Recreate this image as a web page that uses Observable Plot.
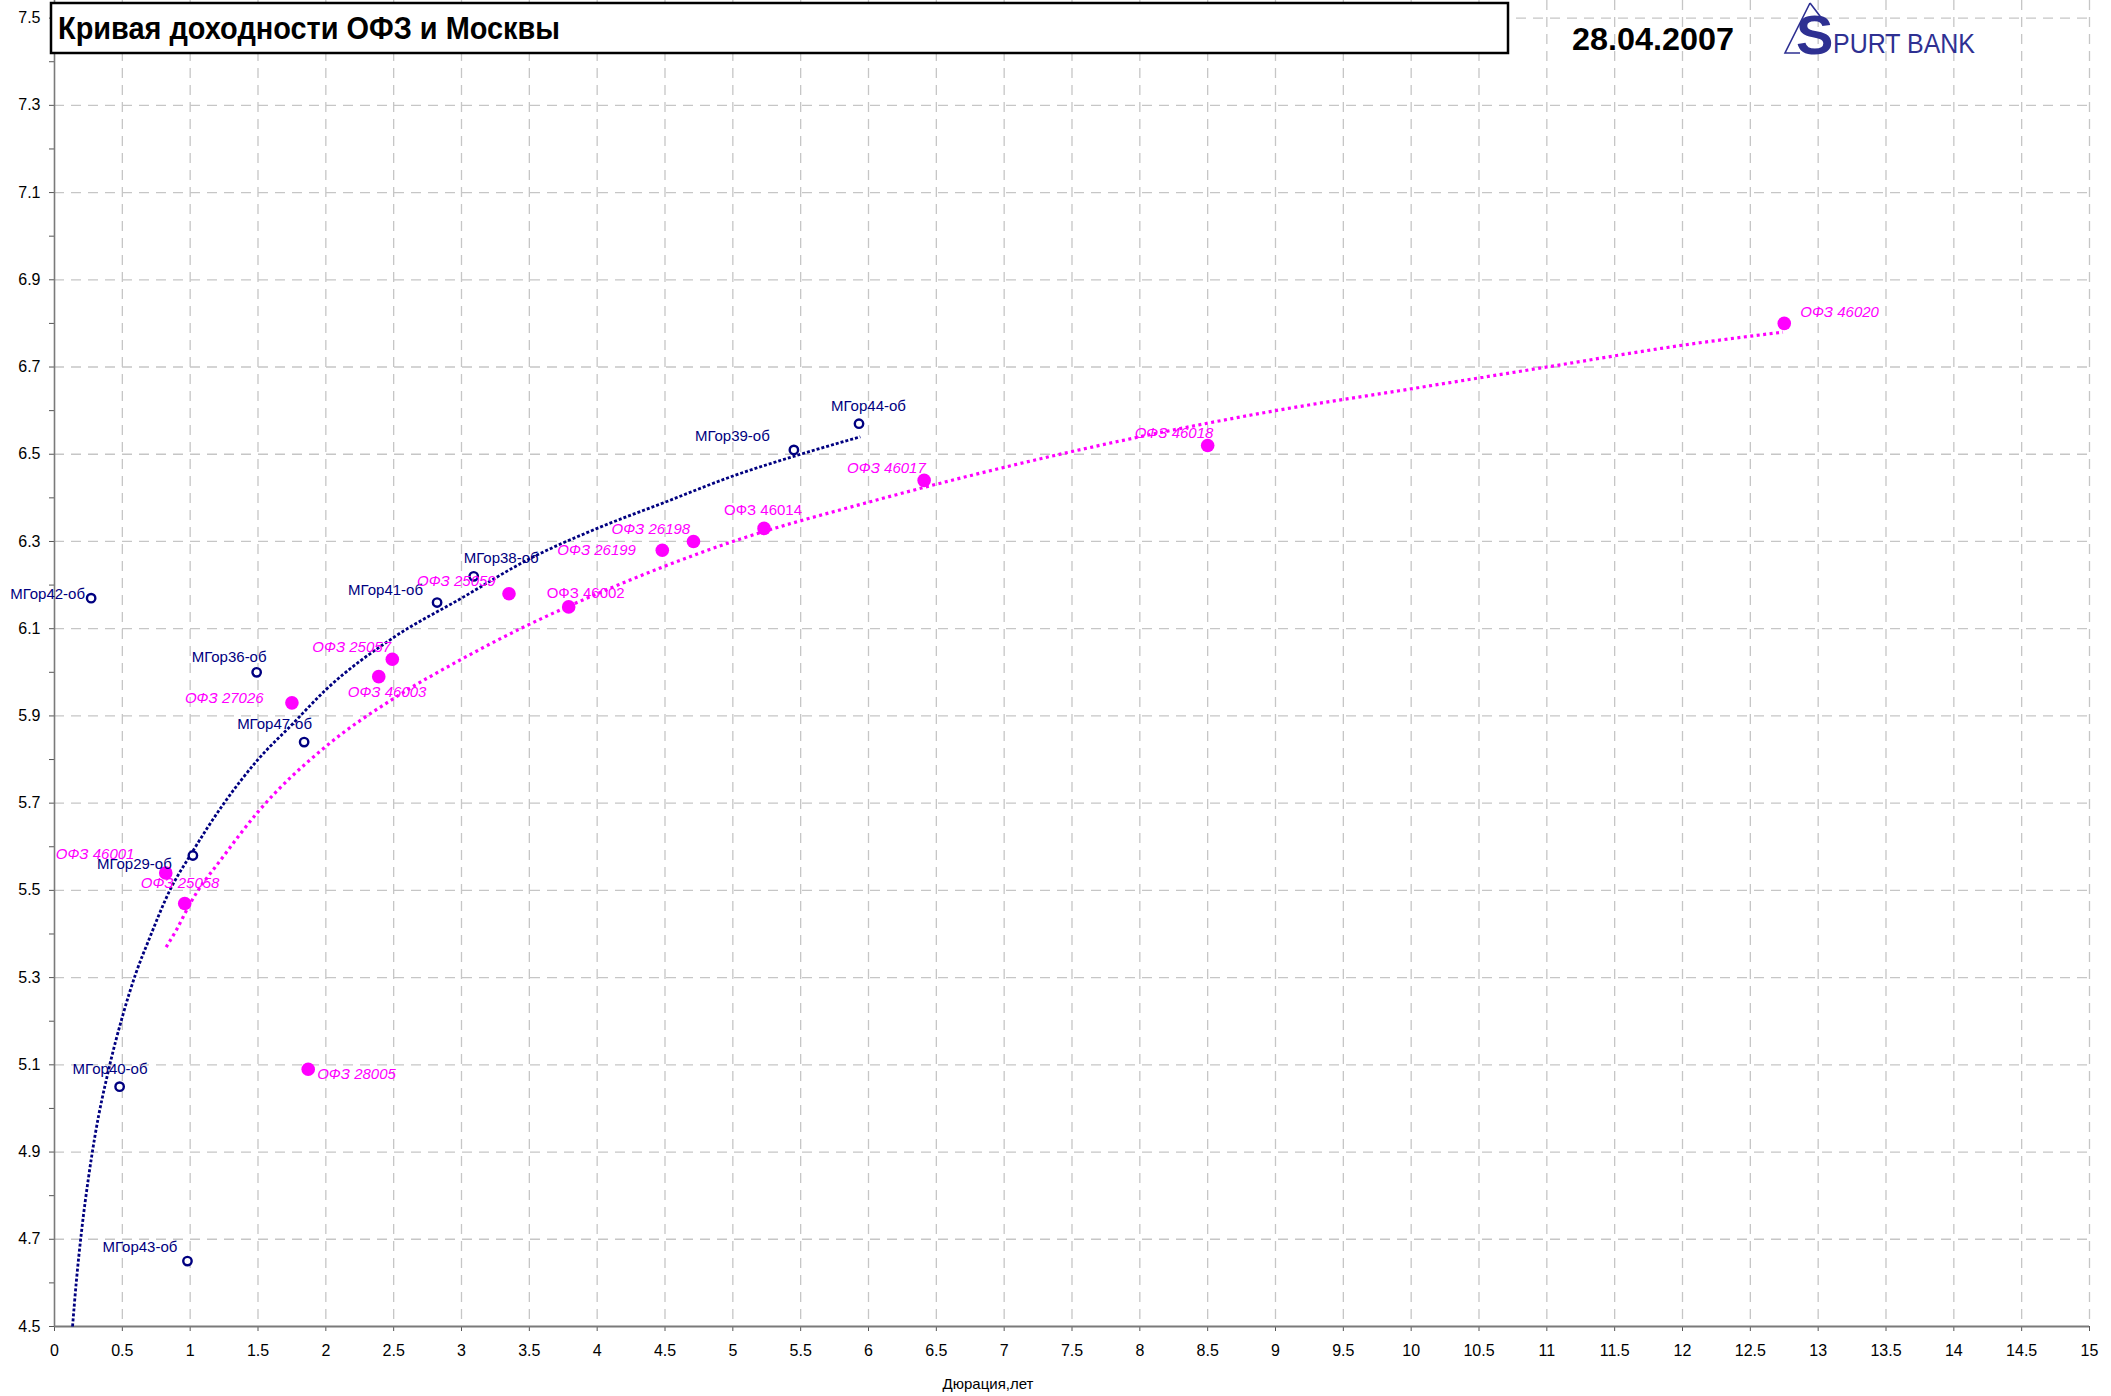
<!DOCTYPE html>
<html>
<head>
<meta charset="utf-8">
<script src="https://cdn.jsdelivr.net/npm/d3@7"></script>
<script src="https://cdn.jsdelivr.net/npm/@observablehq/plot@0.6"></script>
<style>
  html, body { margin: 0; padding: 0; background: #ffffff; }
  #wrap { position: relative; width: 2111px; height: 1396px; font-family: "Liberation Sans", Arial, sans-serif; }
  #wrap > svg { position: absolute; left: 0; top: 0; }
</style>
</head>
<body>
<div id="wrap"></div>
<script>
// ---------- DATA ----------
const chartTitle = "Кривая доходности ОФЗ и Москвы";
const chartDate = "28.04.2007";
const xAxisTitle = "Дюрация,лет";

// Moscow city bonds (МГор)
const mgorNames = ["МГор42-об", "МГор36-об", "МГор47-об", "МГор29-об", "МГор40-об", "МГор43-об", "МГор41-об", "МГор38-об", "МГор39-об", "МГор44-об"];
const mgorDuration = [0.27, 1.49, 1.84, 1.02, 0.48, 0.98, 2.82, 3.09, 5.45, 5.93];
const mgorYield = [6.17, 6.00, 5.84, 5.58, 5.05, 4.65, 6.16, 6.22, 6.51, 6.57];

// Federal loan bonds (ОФЗ)
const ofzNames = ["ОФЗ 27026", "ОФЗ 25057", "ОФЗ 46003", "ОФЗ 25059", "ОФЗ 46002", "ОФЗ 46001", "ОФЗ 25058", "ОФЗ 28005", "ОФЗ 46017", "ОФЗ 46014", "ОФЗ 26198", "ОФЗ 26199", "ОФЗ 46018", "ОФЗ 46020"];
const ofzDuration = [1.75, 2.49, 2.39, 3.35, 3.79, 0.82, 0.96, 1.87, 6.41, 5.23, 4.71, 4.48, 8.50, 12.75];
const ofzYield = [5.93, 6.03, 5.99, 6.18, 6.15, 5.54, 5.47, 5.09, 6.44, 6.33, 6.30, 6.28, 6.52, 6.80];

// Trend curves (duration, yield)
const mgorTrendX = [0.133, 0.16, 0.2, 0.25, 0.3, 0.4, 0.5, 0.6, 0.7, 0.85, 1.0, 1.25, 1.5, 1.75, 2.0, 2.5, 3.0, 3.5, 4.0, 4.5, 5.0, 5.5, 5.94];
const mgorTrendY = [4.50, 4.60, 4.72, 4.84, 4.94, 5.09, 5.21, 5.31, 5.39, 5.50, 5.58, 5.70, 5.80, 5.88, 5.96, 6.08, 6.17, 6.26, 6.33, 6.39, 6.45, 6.50, 6.54];
const ofzTrendX = [0.823, 0.9, 1.0, 1.25, 1.5, 2.0, 2.5, 3.0, 3.5, 4.0, 5.0, 6.0, 7.0, 8.0, 9.0, 10.0, 11.0, 12.0, 12.74];
const ofzTrendY = [5.37, 5.41, 5.47, 5.58, 5.68, 5.83, 5.94, 6.03, 6.11, 6.18, 6.30, 6.39, 6.47, 6.54, 6.60, 6.65, 6.70, 6.75, 6.78];

// Axis ticks
const xTicks = [0, 0.5, 1, 1.5, 2, 2.5, 3, 3.5, 4, 4.5, 5, 5.5, 6, 6.5, 7, 7.5, 8, 8.5, 9, 9.5, 10, 10.5, 11, 11.5, 12, 12.5, 13, 13.5, 14, 14.5, 15];
const xTickLabels = ["0", "0.5", "1", "1.5", "2", "2.5", "3", "3.5", "4", "4.5", "5", "5.5", "6", "6.5", "7", "7.5", "8", "8.5", "9", "9.5", "10", "10.5", "11", "11.5", "12", "12.5", "13", "13.5", "14", "14.5", "15"];
const yTicks = [4.5, 4.7, 4.9, 5.1, 5.3, 5.5, 5.7, 5.9, 6.1, 6.3, 6.5, 6.7, 6.9, 7.1, 7.3, 7.5];
const yTickLabels = ["4.5", "4.7", "4.9", "5.1", "5.3", "5.5", "5.7", "5.9", "6.1", "6.3", "6.5", "6.7", "6.9", "7.1", "7.3", "7.5"];
const yMinorTicks = [4.6, 4.8, 5.0, 5.2, 5.4, 5.6, 5.8, 6.0, 6.2, 6.4, 6.6, 6.8, 7.0, 7.2, 7.4];

// ---------- LABEL PLACEMENT (style, not data) ----------
const labelOffset = {
  "МГор42-об": [-81, -4], "МГор36-об": [-65, -15], "МГор47-об": [-67, -18], "МГор29-об": [-96, 9],
  "МГор40-об": [-47, -17], "МГор43-об": [-85, -14], "МГор41-об": [-89, -12], "МГор38-об": [-10, -18],
  "МГор39-об": [-99, -14], "МГор44-об": [-28, -18],
  "ОФЗ 27026": [-107, -5], "ОФЗ 25057": [-80, -12], "ОФЗ 46003": [-31, 16], "ОФЗ 25059": [-92, -13],
  "ОФЗ 46002": [-22, -14], "ОФЗ 46001": [-110, -19], "ОФЗ 25058": [-44, -20], "ОФЗ 28005": [9, 5],
  "ОФЗ 46017": [-77, -12], "ОФЗ 46014": [-40, -18], "ОФЗ 26198": [-82, -12], "ОФЗ 26199": [-105, 0],
  "ОФЗ 46018": [-73, -12], "ОФЗ 46020": [16, -11]
};
const uprightOfz = new Set(["ОФЗ 46002", "ОФЗ 46014"]);

const NAVY = "#000080";
const MAGENTA = "#ff00ff";
const GRID = "#c6c6c6";

// ---------- BUILD ----------
const mgor = mgorNames.map((n, i) => ({name: n, x: mgorDuration[i], y: mgorYield[i]}));
const ofz = ofzNames.map((n, i) => ({name: n, x: ofzDuration[i], y: ofzYield[i]}));
const mgorTrend = mgorTrendX.map((x, i) => ({x, y: mgorTrendY[i]}));
const ofzTrend = ofzTrendX.map((x, i) => ({x, y: ofzTrendY[i]}));

const labelMarks = [];
for (const d of mgor) {
  const [dx, dy] = labelOffset[d.name];
  labelMarks.push(Plot.text([d], {x: "x", y: "y", text: "name", dx, dy, textAnchor: "start", lineAnchor: "middle", fill: NAVY, fontSize: 15}));
}
for (const d of ofz) {
  const [dx, dy] = labelOffset[d.name];
  labelMarks.push(Plot.text([d], {x: "x", y: "y", text: "name", dx, dy, textAnchor: "start", lineAnchor: "middle", fill: MAGENTA, fontSize: 15, fontStyle: uprightOfz.has(d.name) ? "normal" : "italic"}));
}

const W = 2111, H = 1396;
const chart = Plot.plot({
  width: W,
  height: H,
  marginLeft: 54,
  marginRight: 22,
  marginTop: 0,
  marginBottom: 70,
  style: {fontFamily: "'Liberation Sans', Arial, sans-serif", fontSize: "16px", color: "#000", background: "#fff", overflow: "visible"},
  x: {domain: [0, 15], axis: null},
  y: {domain: [4.5, 7.5404], axis: null},
  marks: [
    Plot.ruleX(xTicks.filter(d => d > 0), {stroke: GRID, strokeWidth: 1.3, strokeDasharray: "10,7"}),
    Plot.ruleY(yTicks.filter(d => d > 4.5), {stroke: GRID, strokeWidth: 1.3, strokeDasharray: "10,7"}),
    Plot.axisX(xTicks, {tickSize: 5, tickPadding: 13, fontSize: 16, tickFormat: d => xTickLabels[xTicks.indexOf(d)], label: null, stroke: "#555"}),
    Plot.axisY(yTicks, {tickSize: 5, tickPadding: 9, fontSize: 16, tickFormat: d => yTickLabels[yTicks.indexOf(d)], label: null, stroke: "#555"}),
    Plot.axisY(yMinorTicks, {tickSize: 5, text: null, label: null, stroke: "#555"}),
    Plot.ruleX([0], {stroke: "#7a7a7a", strokeWidth: 1.6}),
    Plot.ruleY([4.5], {stroke: "#7a7a7a", strokeWidth: 2.2}),
    Plot.line(mgorTrend, {x: "x", y: "y", stroke: NAVY, strokeWidth: 2.8, strokeDasharray: "3,2", strokeLinecap: "butt", curve: "monotone-x"}),
    Plot.line(ofzTrend, {x: "x", y: "y", stroke: MAGENTA, strokeWidth: 3.2, strokeDasharray: "3,3.5", strokeLinecap: "butt", curve: "monotone-x"}),
    Plot.dot(mgor, {x: "x", y: "y", r: 4.2, stroke: NAVY, strokeWidth: 2.4, fill: "#fff"}),
    Plot.dot(ofz, {x: "x", y: "y", r: 6.8, fill: MAGENTA, stroke: "none"}),
    ...labelMarks
  ]
});

const wrap = document.getElementById("wrap");
wrap.appendChild(chart);

// ---------- OVERLAY: title box, date, logo, axis title ----------
const ov = d3.create("svg")
  .attr("width", W).attr("height", H)
  .attr("viewBox", `0 0 ${W} ${H}`)
  .style("pointer-events", "none")
  .style("font-family", "'Liberation Sans', Arial, sans-serif");

ov.append("rect")
  .attr("x", 51).attr("y", 3).attr("width", 1457).attr("height", 50)
  .attr("fill", "#fff").attr("stroke", "#000").attr("stroke-width", 2.5);
ov.append("text")
  .attr("x", 58).attr("y", 39)
  .attr("font-size", 32).attr("font-weight", "bold").attr("fill", "#000")
  .attr("textLength", 502).attr("lengthAdjust", "spacingAndGlyphs")
  .text(chartTitle);

ov.append("text")
  .attr("x", 1572).attr("y", 50)
  .attr("font-size", 32).attr("font-weight", "bold").attr("fill", "#000")
  .attr("textLength", 162).attr("lengthAdjust", "spacingAndGlyphs")
  .text(chartDate);

const LOGO = "#2e3092";
ov.append("path")
  .attr("d", "M1810,3 L1785,53 L1800,53 M1810,3 L1826,24")
  .attr("fill", "none").attr("stroke", LOGO).attr("stroke-width", 1.6);
ov.append("text")
  .attr("x", 1796).attr("y", 54)
  .attr("font-size", 56).attr("font-weight", "bold").attr("fill", LOGO)
  .text("S");
ov.append("text")
  .attr("x", 1833).attr("y", 53)
  .attr("font-size", 28).attr("fill", LOGO)
  .attr("textLength", 142).attr("lengthAdjust", "spacingAndGlyphs")
  .text("PURT BANK");

ov.append("text")
  .attr("x", 988).attr("y", 1389)
  .attr("text-anchor", "middle")
  .attr("font-size", 15).attr("fill", "#000")
  .text(xAxisTitle);

wrap.appendChild(ov.node());
</script>
</body>
</html>
